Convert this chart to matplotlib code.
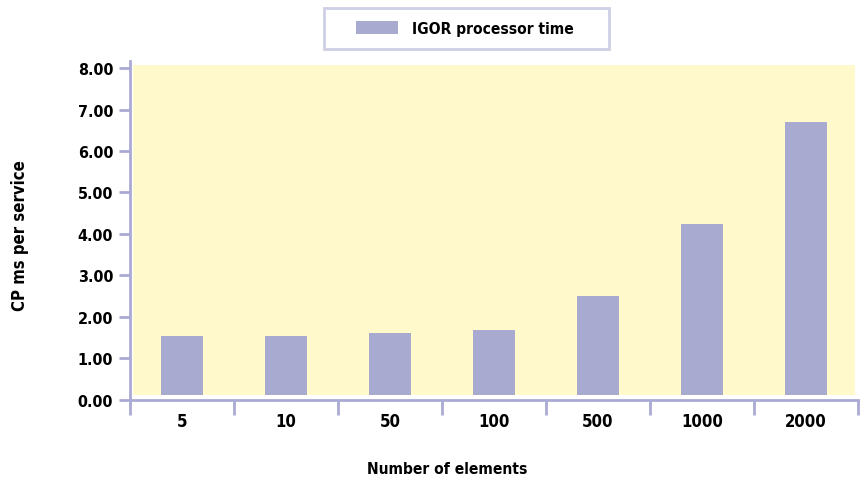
import matplotlib
matplotlib.use("Agg")
import matplotlib.pyplot as plt
from matplotlib.patches import Rectangle

categories = ["5", "10", "50", "100", "500", "1000", "2000"]
values = [1.54, 1.54, 1.61, 1.68, 2.50, 4.24, 6.70]
yticks = [0, 1, 2, 3, 4, 5, 6, 7, 8]
ytick_labels = ["0.00", "1.00", "2.00", "3.00", "4.00", "5.00", "6.00", "7.00", "8.00"]
series_name = "IGOR processor time"

plt.rcParams['font.family'] = ['DejaVu Sans']
plt.rcParams['font.stretch'] = 'condensed'
plt.rcParams['font.weight'] = 'bold'

BAR = "#a9aacf"
YEL = "#fff9cc"
AX = "#aaaad4"

fig = plt.figure(figsize=(8.65, 4.81), dpi=100)
W, H = 865, 481
ax = fig.add_axes([130 / W, (H - 400.8) / H, 728 / W, 338.8 / H])
ax.set_facecolor("white")
ax.set_xlim(-0.5, len(categories) - 0.5)
ax.set_ylim(0, 8.17)

# yellow plot area, slightly inset from the axis lines
ax.axhspan(0.115, 8.08, xmin=0.004, xmax=0.9965, color=YEL, zorder=0, lw=0)
x = list(range(len(categories)))
bars = ax.bar(x, values, width=0.40, color=BAR, zorder=1, label=series_name)
ax.axhspan(0, 0.115, color="white", zorder=2, lw=0)

for s in ["top", "right"]:
    ax.spines[s].set_visible(False)
for s in ["left", "bottom"]:
    ax.spines[s].set_color(AX)
    ax.spines[s].set_linewidth(2)
    ax.spines[s].set_zorder(3)

ax.set_yticks(yticks)
ax.set_yticklabels(ytick_labels, fontsize=11.5, fontweight="bold")
ax.tick_params(axis="y", length=8, width=2, color=AX, pad=4)

ax.set_xticks([i - 0.5 for i in range(len(categories) + 1)])
ax.set_xticklabels([])
ax.tick_params(axis="x", which="major", length=11, width=2, color=AX)
ax.set_xticks(x, minor=True)
ax.set_xticklabels(categories, minor=True, fontsize=12, fontweight="bold")
ax.tick_params(axis="x", which="minor", length=0, pad=9)

fig.text(447 / W, 1 - 470 / H, "Number of elements", fontsize=11.2,
         fontweight="bold", ha="center", va="center")
fig.text(20 / W, 1 - 236 / H, "CP ms per service", rotation=90, fontsize=12,
         fontweight="bold", ha="center", va="center")

# legend
fig.patches.append(Rectangle((324 / W, 1 - 50 / H), 285 / W, 41 / H,
                             transform=fig.transFigure, fill=False,
                             edgecolor="#cfcfe6", linewidth=2))
leg = fig.legend(handles=[bars], labels=[series_name], loc="center left",
                 bbox_to_anchor=(348 / W, 1 - 29.5 / H), frameon=False,
                 borderpad=0, handlelength=2.7, handleheight=0.85,
                 handletextpad=0.9, prop={"size": 11.2, "weight": "bold"})

fig.savefig("out.png", dpi=100)
